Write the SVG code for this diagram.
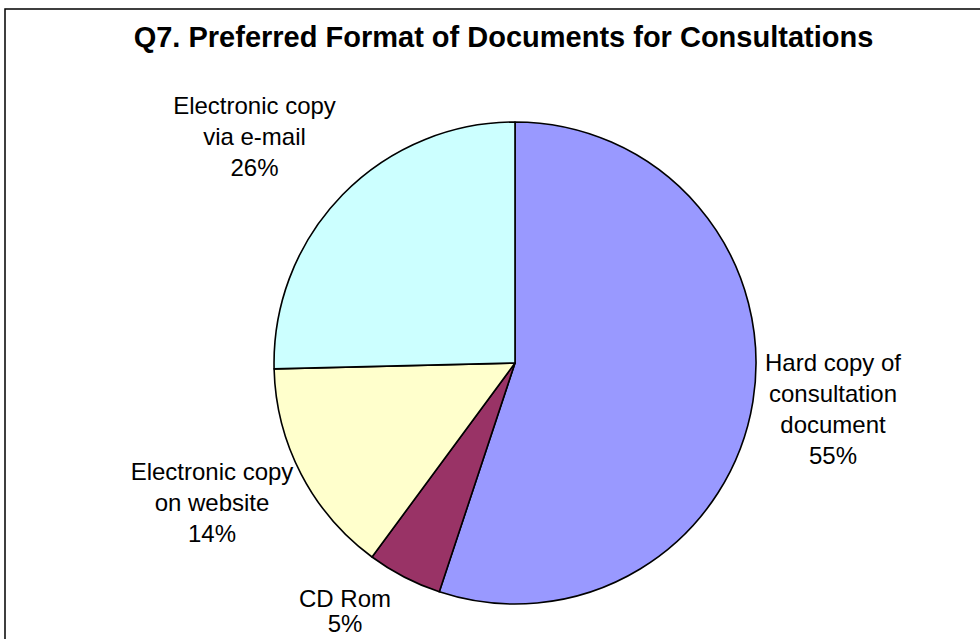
<svg xmlns="http://www.w3.org/2000/svg" width="980" height="639" viewBox="0 0 980 639">
<style>
.slice{stroke:#000;stroke-width:1.6;stroke-linejoin:round}
.lbl{font-family:"Liberation Sans",Arial,sans-serif;font-size:24px;fill:#000;text-anchor:middle}
.title{font-family:"Liberation Sans",Arial,sans-serif;font-size:29px;font-weight:bold;fill:#000;text-anchor:middle}
</style>
<rect x="0" y="0" width="980" height="639" fill="#fff"/>
<rect x="5" y="9" width="1000" height="700" fill="#fff" stroke="#000" stroke-width="1.5"/>
<text class="title" x="503.5" y="47">Q7. Preferred Format of Documents for Consultations</text>
<g id="slice-hardcopy">
<path class="slice" fill="#9999FF" d="M515,363 L515,122 A241,241 0 1,1 439.3,591.8 Z"/>
<text class="lbl" x="833" y="371">Hard copy of</text>
<text class="lbl" x="833" y="402">consultation</text>
<text class="lbl" x="833" y="433">document</text>
<text class="lbl" x="833" y="464">55%</text>
</g>
<g id="slice-cdrom">
<path class="slice" fill="#993366" d="M515,363 L439.3,591.8 A241,241 0 0,1 372,557 Z"/>
<text class="lbl" x="345" y="607">CD Rom</text>
<text class="lbl" x="345" y="632">5%</text>
</g>
<g id="slice-website">
<path class="slice" fill="#FFFFCC" d="M515,363 L372,557 A241,241 0 0,1 274.1,368.9 Z"/>
<text class="lbl" x="212" y="480">Electronic copy</text>
<text class="lbl" x="212" y="511">on website</text>
<text class="lbl" x="212" y="542">14%</text>
</g>
<g id="slice-email">
<path class="slice" fill="#CCFFFF" d="M515,363 L274.1,368.9 A241,241 0 0,1 515,122 Z"/>
<text class="lbl" x="254.5" y="114">Electronic copy</text>
<text class="lbl" x="254.5" y="145">via e-mail</text>
<text class="lbl" x="254.5" y="176">26%</text>
</g>
<g id="connectors"></g>
</svg>
